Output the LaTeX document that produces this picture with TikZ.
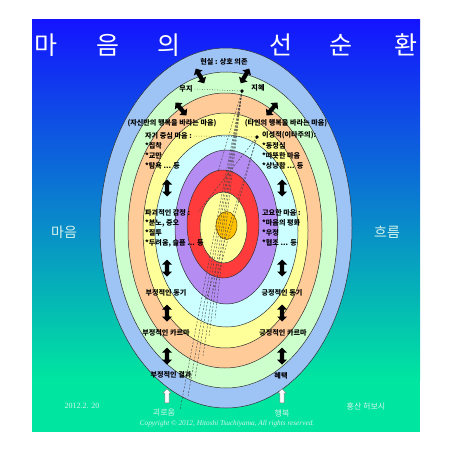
\documentclass[tikz,border=0pt]{standalone}
\usepackage{fontspec}
\setmainfont{Liberation Serif}
\newfontfamily\kr{Noto Sans CJK KR}
\usetikzlibrary{shapes.arrows}
\definecolor{bgtop}{HTML}{1414FF}
\definecolor{bgmid}{HTML}{08A8DC}
\definecolor{bgbot}{HTML}{00E6A0}
\definecolor{ringblue}{HTML}{9EC4F6}
\definecolor{ringgreen}{HTML}{CCFFCC}
\definecolor{ringpeach}{HTML}{FFCC99}
\definecolor{ringyellow}{HTML}{FFFF99}
\definecolor{ringcyan}{HTML}{CCFFFF}
\definecolor{ringpurple}{HTML}{B48CF2}
\definecolor{ringred}{HTML}{FF3B3B}
\definecolor{ringlight}{HTML}{FFFF9C}
\definecolor{ringorange}{HTML}{FFC000}
\definecolor{ringline}{HTML}{303030}
\definecolor{pale}{HTML}{D8F4EC}
\begin{document}
\begin{tikzpicture}[x=1pt,y=-1pt,
  ring/.style={draw=ringline, line width=0.5pt},
  lbl/.style={font=\kr\bfseries\fontsize{7.1}{8}\selectfont, inner sep=0pt, text=black},
  lblw/.style={lbl, anchor=west},
  dblarr/.style={double arrow, fill=black, minimum height=17pt, minimum width=10pt, inner sep=1.6pt, double arrow head extend=2.4pt},
  uparr/.style={single arrow, fill=white, draw=gray, line width=0.4pt, minimum height=14pt, minimum width=8.5pt, inner sep=1.4pt, single arrow head extend=1.6pt, rotate=90},
  dashln/.style={draw=black!75, line width=0.4pt, dash pattern=on 2pt off 1.5pt},
  dotln/.style={draw=black, line width=0.5pt, dotted},
  title/.style={font=\kr\fontsize{25}{28}\selectfont, text=white, inner sep=0pt},
  side/.style={font=\kr\fontsize{14}{16}\selectfont, text=pale, inner sep=0pt},
  bot/.style={font=\kr\fontsize{8}{9}\selectfont, text=pale, inner sep=0pt}
]
\useasboundingbox (0,0) rectangle (452,452);
\fill[white] (0,0) rectangle (452,452);
\shade[top color=bgtop, middle color=bgmid, bottom color=bgbot] (32,20) rectangle (420,380);
\fill[bgbot] (32,379.5) rectangle (420,432);

% title
\node[title] (t1) at (46,45) {마};
\node[title] (t2) at (108,45) {음};
\node[title] (t3) at (169,45) {의};
\node[title] (t4) at (281,45) {선};
\node[title] (t5) at (341,45) {순};
\node[title] (t6) at (406,45) {환};
\node[side] (s1) at (64,232) {마음};
\node[side] (s2) at (387,232) {흐름};

% rings
\filldraw[ring, fill=ringblue] (226,228) ellipse [x radius=126pt, y radius=180pt];
\filldraw[ring, fill=ringgreen] (226,230) ellipse [x radius=111.5pt, y radius=158pt];
\filldraw[ring, fill=ringpeach] (225,230.5) ellipse [x radius=97pt, y radius=137.5pt];
\filldraw[ring, fill=ringyellow] (225.5,230.5) ellipse [x radius=82.5pt, y radius=117.5pt];
\filldraw[ring, fill=ringcyan] (226.5,231) ellipse [x radius=71.5pt, y radius=96pt];
\filldraw[ring, fill=ringpurple] (226.5,227) ellipse [x radius=51.5pt, y radius=77pt];
\filldraw[ring, fill=ringred] (223,224) ellipse [x radius=36pt, y radius=54pt];
\filldraw[ring, fill=ringlight] (223.5,227.5) ellipse [x radius=23.5pt, y radius=35.5pt];
\filldraw[draw=black!60!ringorange, line width=0.5pt, fill=ringorange] (226.5,225.5) ellipse [x radius=10.5pt, y radius=14pt];

% dots and lines
\coordinate (A) at (242,91);
\coordinate (B) at (257,137);
\coordinate (e1) at (180,410);
\coordinate (e2) at (188,396);
\coordinate (e3) at (195,378);
\coordinate (e4) at (203,356);
\coordinate (e5) at (209,336);
\coordinate (e6) at (215,318);
\coordinate (e7) at (198,212);
\coordinate (e8) at (206,300);
\coordinate (e9) at (213,292);
\coordinate (e10) at (218,172);
\draw[dashln] (A) -- (e1);
\draw[dashln] (A) -- (e2);
\draw[dashln] (A) -- (e3);
\draw[dashln] (A) -- (e4);
\draw[dashln] (A) -- (e5);
\draw[dashln] (A) -- (e6);
\draw[dashln] (B) -- (e7);
\draw[dashln] (B) -- (e8);
\draw[dashln] (B) -- (e9);
\draw[dashln] (A) -- (e10);

% labels
\node[lbl] (real) at (224,62) {현실 : 상호 의존};
\node[lbl] (muji) at (186,89) {무지};
\node[lbl] (jihye) at (258,88) {지혜};
\draw[dotln] (muji.east) ++(2,0) -- (A);
\fill (A) circle (1.8pt);
\node[lbl] (selfw) at (172,123) {(자신만의 행복을 바라는 마음)};
\node[lbl] (otherw) at (286,123) {(타인의 행복을 바라는 마음)};
\node[lblw] (selfc) at (145,136) {자기 중심 마음 :};
\draw[dotln] (selfc.east) ++(2,0) -- (B);
\fill (B) circle (1.8pt);
\node[lblw] (alt) at (262,135) {이성적(이타주의):};
\node[lblw] (l1) at (145,146) {*집착};
\node[lblw] (l2) at (145,156) {*교만};
\node[lblw] (l3) at (145,166) {*탐욕 ... 등};
\node[lblw] (r1) at (262,146) {*동정심};
\node[lblw] (r2) at (262,156) {*따뜻한 마음};
\node[lblw] (r3) at (262,166) {*상냥함 ... 등};
\node[lblw] (dest) at (145,213) {파괴적인 감정 :};
\node[lblw] (d1) at (145,223) {*분노, 증오};
\node[lblw] (d2) at (145,233) {*질투};
\node[lblw] (d3) at (145,243) {*두려움, 슬픔 ... 등};
\node[lblw] (calm) at (262,213) {고요한 마음 :};
\node[lblw] (c1) at (262,223) {*마음의 평화};
\node[lblw] (c2) at (262,233) {*우정};
\node[lblw] (c3) at (262,243) {*협조 ... 등};
\node[lbl] (nm) at (166,293) {부정적인 동기};
\node[lbl] (pm) at (282,293) {긍정적인 동기};
\node[lbl] (nk) at (166,333) {부정적인 카르마};
\node[lbl] (pk) at (283,333) {긍정적인 카르마};
\node[lbl] (nr) at (171,375) {부정적인 결과};
\node[lbl] (pr) at (281,376) {혜택};

% arrows
\node[dblarr, rotate=120] (a1) at (200,76) {};
\node[dblarr, rotate=60] (a2) at (245,76) {};
\node[dblarr, rotate=130] (a3) at (181,109) {};
\node[dblarr, rotate=50] (a4) at (272,109) {};
\node[dblarr, rotate=90] (v1) at (167,188) {};
\node[dblarr, rotate=90] (v2) at (282,188) {};
\node[dblarr, rotate=90] (v3) at (167,268) {};
\node[dblarr, rotate=90] (v4) at (282,268) {};
\node[dblarr, rotate=90] (v5) at (167,313) {};
\node[dblarr, rotate=90] (v6) at (282,313) {};
\node[dblarr, rotate=90] (v7) at (167,356) {};
\node[dblarr, rotate=90] (v8) at (282,356) {};
\node[uparr] (w1) at (167,397) {};
\node[uparr] (w2) at (282,397) {};

% bottom texts
\node[bot] (pain) at (164,413) {괴로움};
\node[bot] (happy) at (282,413) {행복};
\node[font=\fontsize{8}{9}\selectfont, text=pale, inner sep=0pt] (date) at (82,406) {2012.2. 20};
\node[bot] (auth) at (366,406) {홍산 허보시};
\node[font=\itshape\fontsize{7.3}{8}\selectfont, text=pale, inner sep=0pt] (copy) at (227,424) {Copyright \copyright\ 2012, Hitoshi Tsuchiyama, All rights reserved.};
\end{tikzpicture}
\end{document}
